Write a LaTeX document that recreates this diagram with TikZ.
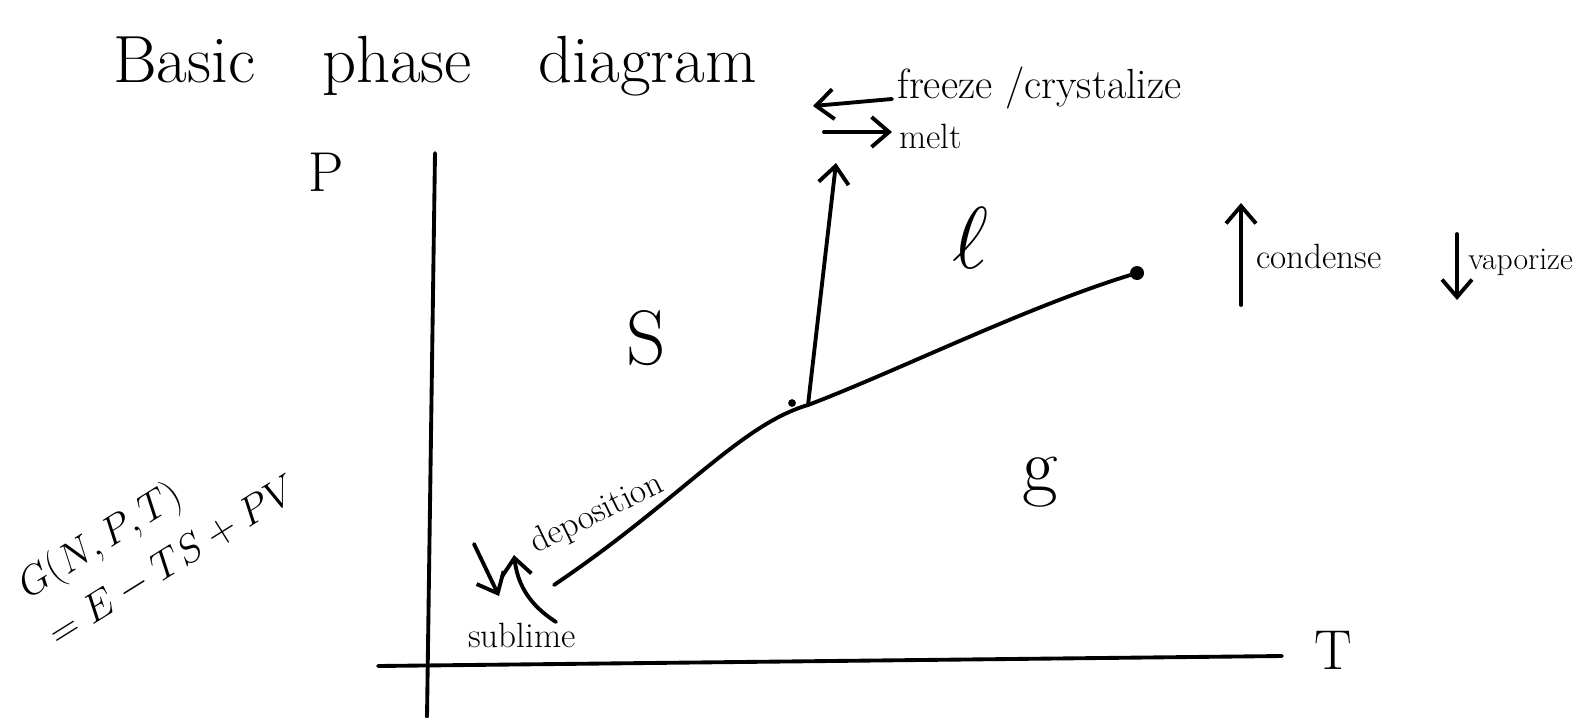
\RequirePackage{fix-cm}
\documentclass[tikz,border=0pt]{standalone}
\usepackage{tikz}
\usetikzlibrary{arrows.meta,positioning}

\begin{document}
\begin{tikzpicture}[
    x=0.02cm, y=-0.02cm,
    ink/.style={line width=2.2pt, line cap=round, line join=round},
    barb/.style={ink, -{Straight Barb[length=3.5mm,width=6mm]}},
    titre/.style={font=\fontsize{38}{42}\selectfont, anchor=base},
    lbl/.style={font=\fontsize{20}{24}\selectfont, anchor=west, inner sep=0pt},
    phase/.style={font=\fontsize{44}{48}\selectfont},
    eqn/.style={font=\fontsize{23}{32}\selectfont, rotate=32, align=left, inner sep=0pt}
  ]
    \useasboundingbox (0,0) rectangle (1595,717);
    \node[titre] (title) at (435,82) {Basic\quad phase\quad diagram};

    % axes
    \coordinate (ytop) at (435,153);
    \coordinate (ybot) at (427,717);
    \coordinate (xleft) at (378,666);
    \coordinate (xright) at (1282,656);
    \draw[ink] (ytop) -- (ybot);
    \draw[ink] (xleft) -- (xright);
    \node[phase, font=\fontsize{32}{36}\selectfont] (plab) at (326,172) {P};
    \node[phase, font=\fontsize{32}{36}\selectfont] (tlab) at (1333,650) {T};

    % coexistence curves
    \coordinate (start) at (554,585);
    \coordinate (triple) at (808,405);
    \node[circle, fill, inner sep=0pt, minimum size=2.8mm] (crit) at (1137,273) {};
    \fill (792,403) circle (2.2pt);
    \draw[ink] (start) .. controls (680,500) and (740,425) .. (triple)
                       .. controls (900,370) and (1030,305) .. (crit.center);
    \coordinate (melttop) at (836,163);
    \draw[barb] (triple) -- (melttop);

    % phases
    \node[phase] (solid) at (646,338) {S};
    \node[phase, font=\fontsize{50}{54}\selectfont] (liquid) at (971,238) {$\ell$};
    \node[phase] (gas) at (1040,482) {g};

    % freeze / melt
    \coordinate (frzR) at (892,99);
    \coordinate (frzL) at (813,106);
    \coordinate (mltL) at (824,132);
    \coordinate (mltR) at (892,132);
    \draw[barb] (frzR) -- (frzL);
    \draw[barb] (mltL) -- (mltR);
    \node[lbl, font=\fontsize{24}{28}\selectfont] (freeze) at (897,88) {freeze /crystalize};
    \node[lbl] (melt) at (899,136) {melt};

    % condense / vaporize
    \coordinate (cndB) at (1241,305);
    \coordinate (cndT) at (1241,203);
    \coordinate (vapT) at (1457,234);
    \coordinate (vapB) at (1457,300);
    \draw[barb] (cndB) -- (cndT);
    \draw[barb] (vapT) -- (vapB);
    \node[lbl] (condense) at (1256,256) {condense};
    \node[lbl, font=\fontsize{18}{22}\selectfont] (vaporize) at (1468,262) {vaporize};

    % deposition / sublime
    \coordinate (depS) at (556,622);
    \coordinate (depE) at (514,555);
    \coordinate (subS) at (474,544);
    \coordinate (subE) at (499,596);
    \draw[barb] (depS) to[bend left=25] (depE);
    \draw[barb] (subS) -- (subE);
    \node[lbl, font=\fontsize{20}{24}\selectfont, anchor=center, rotate=26]
      (deposition) at (597,514) {deposition};
    \node[lbl, anchor=center] (sublime) at (522,635) {sublime};

    % Gibbs free energy
    \node[eqn, anchor=west] (gibbs) at (36,612) {$G(N,P,T)$\\$= E - TS + PV$};
\end{tikzpicture}
\end{document}
